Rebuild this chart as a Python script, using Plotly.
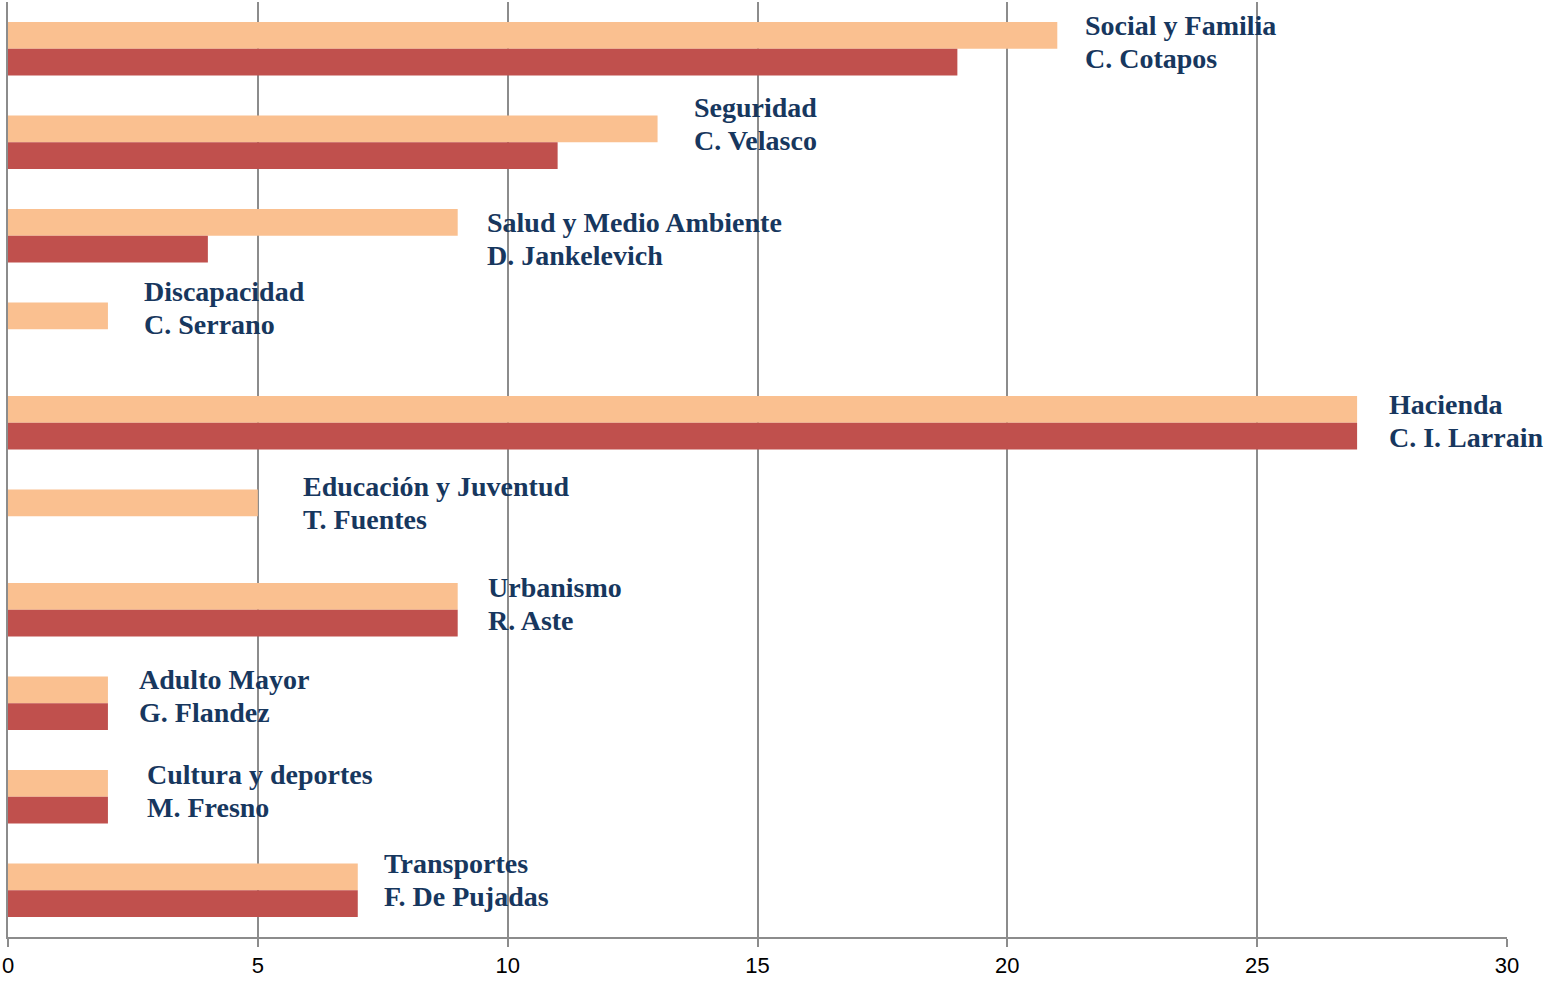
import plotly.graph_objects as go

# data, top to bottom
areas = ["Social y Familia", "Seguridad", "Salud y Medio Ambiente", "Discapacidad", "Hacienda",
         "Educación y Juventud", "Urbanismo", "Adulto Mayor", "Cultura y deportes", "Transportes"]
names = ["C. Cotapos", "C. Velasco", "D. Jankelevich", "C. Serrano", "C. I. Larrain",
         "T. Fuentes", "R. Aste", "G. Flandez", "M. Fresno", "F. De Pujadas"]
serie_a = [21, 13, 9, 2, 27, 5, 9, 2, 2, 7]
serie_b = [19, 11, 4, 0, 27, 0, 9, 2, 2, 7]
x_ticks = [0, 5, 10, 15, 20, 25, 30]

# label placement (offset in px from bar end, vertical shift of the two-line block in px)
label_dx = [26, 34, 27, 34, 30, 43, 28, 29, 37, 24]
label_dy = [7, 18, -3, 21, 2, 13, 6, 7, 6, 10]

NAVY = "#17375E"
LINE = 33

fig = go.Figure()
fig.add_trace(go.Bar(y=areas, x=serie_a, orientation="h", marker_color="#FAC090",
                     marker_line_width=0, name="a"))
fig.add_trace(go.Bar(y=areas, x=serie_b, orientation="h", marker_color="#C0504D",
                     marker_line_width=0, name="b"))

for i, cat in enumerate(areas):
    for txt, sh in ((cat, LINE / 2), (names[i], -LINE / 2)):
        fig.add_annotation(
            x=max(serie_a[i], serie_b[i]), y=cat, xref="x", yref="y",
            text=f"<b>{txt}</b>",
            showarrow=False, xanchor="left", yanchor="middle", align="left",
            xshift=label_dx[i], yshift=label_dy[i] + sh,
            font=dict(family="Liberation Serif", size=28, color=NAVY),
        )

fig.update_layout(
    width=1547, height=985,
    barmode="group", bargap=0.43, bargroupgap=0,
    showlegend=False,
    paper_bgcolor="white", plot_bgcolor="white",
    margin=dict(l=6, r=40, t=2, b=48),
    xaxis=dict(range=[0, 30], tickvals=x_ticks, showgrid=True, gridcolor="#8C8C8C", gridwidth=2,
               showline=True, linecolor="#8C8C8C", linewidth=2, ticks="outside", ticklen=8,
               tickcolor="#8C8C8C", tickwidth=2, zeroline=False, ticklabeloverflow="allow",
               tickfont=dict(family="Liberation Sans", size=22, color="black")),
    yaxis=dict(autorange="reversed", showticklabels=False, showgrid=False, zeroline=False,
               showline=True, linecolor="#8C8C8C", linewidth=2, ticks=""),
)

fig.write_html("out.html", config={"displayModeBar": False},
               post_script="document.body.style.margin='0px';")
